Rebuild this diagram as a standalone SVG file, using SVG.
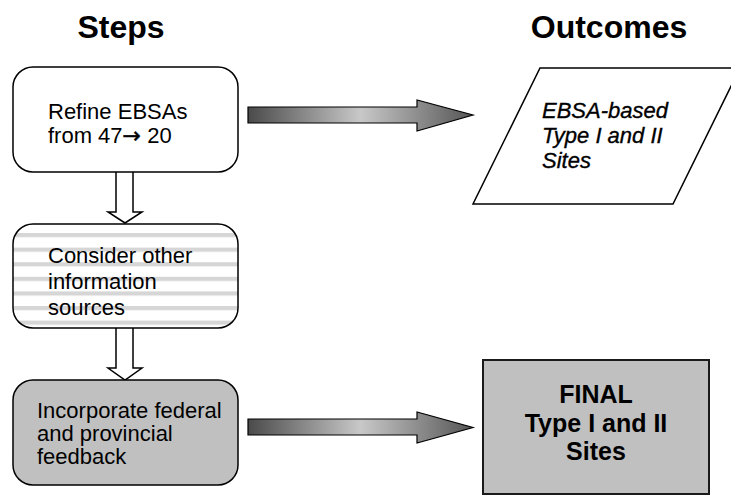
<svg xmlns="http://www.w3.org/2000/svg" width="731" height="495" viewBox="0 0 731 495">
  <defs>
    <style>
      .head { font-family: "Liberation Sans", Arial, sans-serif; font-size: 32px; font-weight: bold; fill: #000; text-anchor: middle; }
      .step { font-family: "Liberation Sans", Arial, sans-serif; font-size: 22px; fill: #000; }
      .sym { font-family: "DejaVu Sans", sans-serif; font-size: 22px; stroke: #000; stroke-width: 0.5; }
      .out-i { font-family: "Liberation Sans", Arial, sans-serif; font-size: 22px; font-style: italic; fill: #000; stroke: #000; stroke-width: 0.35; }
      .out-b { font-family: "Liberation Sans", Arial, sans-serif; font-size: 25px; font-weight: bold; fill: #000; text-anchor: middle; }
      .box { stroke: #000; stroke-width: 1.5; }
      .hollow { fill: #fff; stroke: #000; stroke-width: 1.5; stroke-linejoin: miter; }
      .block { fill: url(#shade); stroke: #000; stroke-width: 1.2; }
    </style>
    <linearGradient id="shade" x1="0" y1="0" x2="1" y2="0">
      <stop offset="0" stop-color="#4a4a4a"/>
      <stop offset="0.5" stop-color="#c8c8c8"/>
      <stop offset="1" stop-color="#555555"/>
    </linearGradient>
    <pattern id="stripes" patternUnits="userSpaceOnUse" x="0" y="233" width="20" height="14.6">
      <rect x="0" y="0" width="20" height="14.6" fill="#ffffff"/>
      <rect x="0" y="0" width="20" height="4.2" fill="#d6d6d6"/>
    </pattern>
  </defs>

  <!-- column headings -->
  <text class="head" x="121" y="38">Steps</text>
  <text class="head" x="609" y="38">Outcomes</text>

  <!-- connectors -->
  <g id="connectors">
    <path class="hollow" d="M116,172 V212 H108 L125,223 L142,212 H133 V172"/>
    <path class="hollow" d="M116,328 V368 H108 L125,380 L142,368 H133 V328"/>
    <path class="block" d="M248,107 H417 V100 L473,115 L417,131 V123 H248 Z"/>
    <path class="block" d="M248,419 H417 V412 L473,427.5 L417,443 V435 H248 Z"/>
  </g>

  <g id="refine">
    <rect class="box" x="13" y="67" width="225" height="105" rx="20" fill="#fff"/>
    <text class="step" x="48" y="119">Refine EBSAs</text>
    <text class="step" x="48" y="143">from 47<tspan class="sym">→</tspan> 20</text>
  </g>

  <g id="consider">
    <rect class="box" x="13" y="224" width="225" height="104" rx="20" fill="url(#stripes)"/>
    <text class="step" x="48" y="263">Consider other</text>
    <text class="step" x="48" y="289">information</text>
    <text class="step" x="48" y="315">sources</text>
  </g>

  <g id="incorporate">
    <rect class="box" x="13" y="380" width="225" height="105" rx="20" fill="#c0c0c0"/>
    <text class="step" x="37" y="418">Incorporate federal</text>
    <text class="step" x="37" y="441">and provincial</text>
    <text class="step" x="37" y="464">feedback</text>
  </g>

  <g id="ebsa-sites">
    <polygon class="box" points="540,68 740,68 673,204 473,204" fill="#fff"/>
    <text class="out-i" x="542" y="118">EBSA-based</text>
    <text class="out-i" x="542" y="143">Type I and II</text>
    <text class="out-i" x="542" y="168">Sites</text>
  </g>

  <g id="final-sites">
    <rect x="483" y="360" width="226" height="134" fill="#c0c0c0" stroke="#1a1a1a" stroke-width="2"/>
    <text class="out-b" x="596" y="403">FINAL</text>
    <text class="out-b" x="596" y="432">Type I and II</text>
    <text class="out-b" x="596" y="460">Sites</text>
  </g>
</svg>
